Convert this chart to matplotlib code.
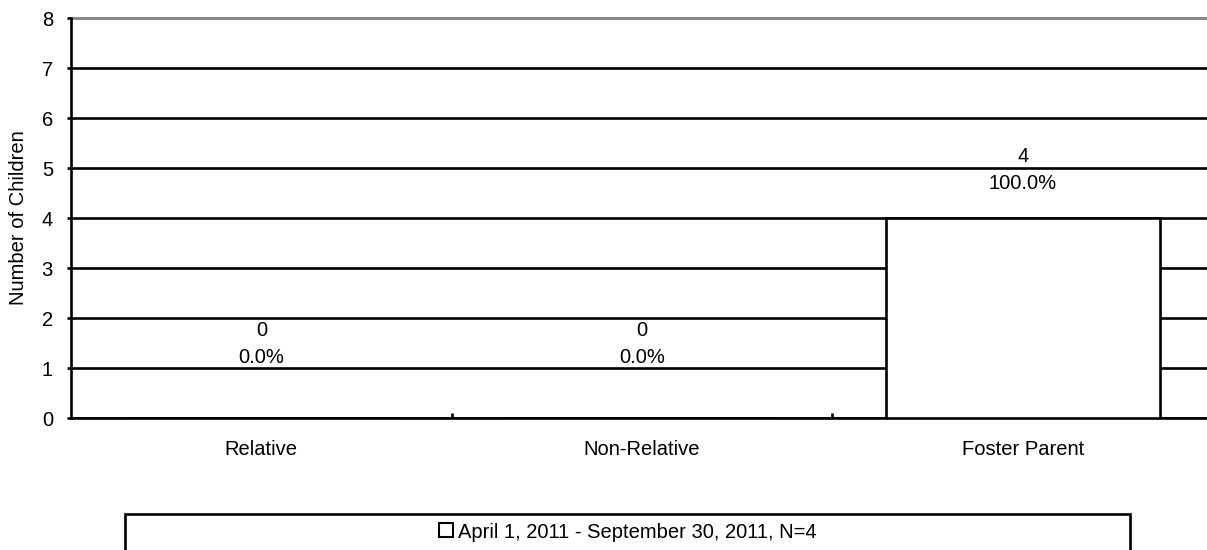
import numpy as np
import matplotlib
matplotlib.use('Agg')
import matplotlib.pyplot as plt
from matplotlib.patches import Rectangle
from matplotlib.lines import Line2D

plt.rcParams['font.family'] = ['Liberation Sans', 'DejaVu Sans']
plt.rcParams['font.size'] = 14.5

# data
categories = ['Relative', 'Non-Relative', 'Foster Parent']
counts = [0, 0, 4]
percents = [0.0, 0.0, 100.0]
series_name = 'April 1, 2011 - September 30, 2011, N=4'

# label offsets above the bar top (points)
label_offsets = [37, 37, 18]

W, H = 1207, 550
LW = 1.9
fig = plt.figure(figsize=(W / 100, H / 100), dpi=100)
ax = fig.add_axes([71 / W, (H - 418) / H, 1142 / W, 400 / H])

x = np.arange(len(categories))
ax.bar(x, counts, width=0.72, color='white', edgecolor='black', linewidth=LW, zorder=3)

for xi, c, p, off in zip(x, counts, percents, label_offsets):
    ax.annotate('%d\n%.1f%%' % (c, p), (xi, c), xytext=(0, off), textcoords='offset points',
                ha='center', va='bottom', linespacing=1.5, zorder=4)

ax.set_xlim(-0.5, 2.5)
ax.set_ylim(0, 8)
ax.set_yticks(range(0, 9))
ax.set_xticks(x)
ax.set_xticklabels(categories)
ax.set_xticks([0.5, 1.5], minor=True)
ax.tick_params(axis='x', which='major', length=0, pad=16)
ax.tick_params(axis='x', which='minor', direction='in', length=3.6, width=LW)
ax.tick_params(axis='y', length=3, width=LW, pad=10)

ax.set_axisbelow(True)
ax.grid(axis='y', color='black', linewidth=LW)
gl = ax.get_ygridlines()
gl[-1].set_color('#8c8c8c')
gl[-1].set_linewidth(2.2)
gl[-1].set_clip_on(False)

for s in ['top', 'right']:
    ax.spines[s].set_visible(False)
ax.spines['left'].set_linewidth(LW)
ax.spines['bottom'].set_linewidth(LW)

ax.set_ylabel('Number of Children')
ax.yaxis.set_label_coords(-43 / 1142, 0.5)

# legend box
fig.patches.append(Rectangle((125 / W, -0.1), 1005 / W, 0.1 + (H - 514) / H,
                             transform=fig.transFigure, facecolor='white',
                             edgecolor='black', linewidth=LW))
handle = Line2D([], [], marker='s', linestyle='none', markerfacecolor='white',
                markeredgecolor='black', markersize=10, markeredgewidth=1.5)
fig.legend([handle], [series_name], loc='center', bbox_to_anchor=(627.5 / W, (H - 532) / H),
           frameon=False, handletextpad=0.2, handlelength=0.8, borderpad=0)

fig.savefig('out.png', dpi=100)
